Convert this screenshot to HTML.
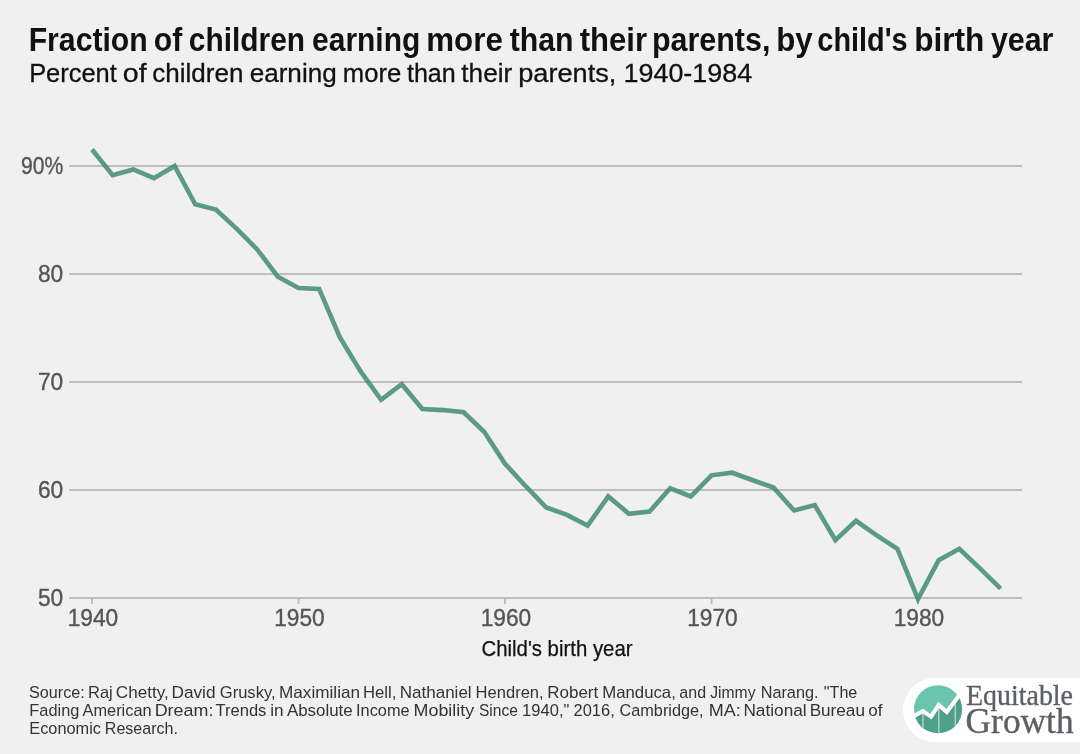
<!DOCTYPE html>
<html><head><meta charset="utf-8"><title>Fraction of children earning more than their parents</title>
<style>
html,body{margin:0;padding:0;background:#f0f0f0;}
body{width:1080px;height:754px;overflow:hidden;font-family:"Liberation Sans",sans-serif;}
svg{display:block;will-change:transform;}
text{font-family:"Liberation Sans",sans-serif;}
.ax{font-size:23px;fill:#555;stroke:#555;stroke-width:0.35px;}
.src{font-size:16.9px;fill:#333;}
.logo{font-family:"Liberation Serif",serif;fill:#5c6064;stroke:#5c6064;stroke-width:0.35px;}
</style></head>
<body>
<svg width="1080" height="754" viewBox="0 0 1080 754">
<rect width="1080" height="754" fill="#f0f0f0"/>
<text transform="translate(28.64 51.00) scale(0.9210 1)" font-size="32.8" font-weight="bold" fill="#111">Fraction</text>
<text transform="translate(153.79 51.00) scale(0.9197 1)" font-size="32.8" font-weight="bold" fill="#111">of</text>
<text transform="translate(188.80 51.00) scale(0.9114 1)" font-size="32.8" font-weight="bold" fill="#111">children</text>
<text transform="translate(312.10 51.00) scale(0.9133 1)" font-size="32.8" font-weight="bold" fill="#111">earning</text>
<text transform="translate(426.27 51.00) scale(0.9543 1)" font-size="32.8" font-weight="bold" fill="#111">more</text>
<text transform="translate(509.70 51.00) scale(0.9221 1)" font-size="32.8" font-weight="bold" fill="#111">than</text>
<text transform="translate(579.69 51.00) scale(0.9480 1)" font-size="32.8" font-weight="bold" fill="#111">their</text>
<text transform="translate(652.02 51.00) scale(0.9280 1)" font-size="32.8" font-weight="bold" fill="#111">parents,</text>
<text transform="translate(776.27 51.00) scale(0.9522 1)" font-size="32.8" font-weight="bold" fill="#111">by</text>
<text transform="translate(817.35 51.00) scale(0.8801 1)" font-size="32.8" font-weight="bold" fill="#111">child's</text>
<text transform="translate(914.14 51.00) scale(0.9648 1)" font-size="32.8" font-weight="bold" fill="#111">birth</text>
<text transform="translate(990.90 51.00) scale(0.9259 1)" font-size="32.8" font-weight="bold" fill="#111">year</text>
<text transform="translate(29.16 81.80) scale(0.9566 1)" font-size="26.6" fill="#111" stroke="#111" stroke-width="0.3">Percent</text>
<text transform="translate(122.86 81.80) scale(1.0734 1)" font-size="26.6" fill="#111" stroke="#111" stroke-width="0.3">of</text>
<text transform="translate(152.26 81.80) scale(0.9789 1)" font-size="26.6" fill="#111" stroke="#111" stroke-width="0.3">children</text>
<text transform="translate(249.66 81.80) scale(0.9812 1)" font-size="26.6" fill="#111" stroke="#111" stroke-width="0.3">earning</text>
<text transform="translate(342.83 81.80) scale(0.9637 1)" font-size="26.6" fill="#111" stroke="#111" stroke-width="0.3">more</text>
<text transform="translate(406.92 81.80) scale(0.9414 1)" font-size="26.6" fill="#111" stroke="#111" stroke-width="0.3">than</text>
<text transform="translate(461.31 81.80) scale(0.9841 1)" font-size="26.6" fill="#111" stroke="#111" stroke-width="0.3">their</text>
<text transform="translate(518.23 81.80) scale(1.0213 1)" font-size="26.6" fill="#111" stroke="#111" stroke-width="0.3">parents,</text>
<text transform="translate(623.48 81.80) scale(1.0124 1)" font-size="26.6" fill="#111" stroke="#111" stroke-width="0.3">1940-1984</text>
<text transform="translate(29.07 698.20) scale(0.9564 1)" font-size="16.9" fill="#333">Source:</text>
<text transform="translate(88.08 698.20) scale(0.9738 1)" font-size="16.9" fill="#333">Raj</text>
<text transform="translate(115.85 698.20) scale(1.0112 1)" font-size="16.9" fill="#333">Chetty,</text>
<text transform="translate(171.42 698.20) scale(1.0214 1)" font-size="16.9" fill="#333">David</text>
<text transform="translate(219.77 698.20) scale(0.9804 1)" font-size="16.9" fill="#333">Grusky,</text>
<text transform="translate(279.03 698.20) scale(1.0153 1)" font-size="16.9" fill="#333">Maximilian</text>
<text transform="translate(363.07 698.20) scale(0.9867 1)" font-size="16.9" fill="#333">Hell,</text>
<text transform="translate(399.74 698.20) scale(1.0079 1)" font-size="16.9" fill="#333">Nathaniel</text>
<text transform="translate(475.58 698.20) scale(0.9794 1)" font-size="16.9" fill="#333">Hendren,</text>
<text transform="translate(547.24 698.20) scale(1.0048 1)" font-size="16.9" fill="#333">Robert</text>
<text transform="translate(602.26 698.20) scale(0.9916 1)" font-size="16.9" fill="#333">Manduca,</text>
<text transform="translate(679.36 698.20) scale(0.9483 1)" font-size="16.9" fill="#333">and</text>
<text transform="translate(710.16 698.20) scale(0.9303 1)" font-size="16.9" fill="#333">Jimmy</text>
<text transform="translate(760.70 698.20) scale(0.9614 1)" font-size="16.9" fill="#333">Narang.</text>
<text transform="translate(823.86 698.20) scale(0.9515 1)" font-size="16.9" fill="#333">&quot;The</text>
<text transform="translate(29.29 715.70) scale(0.9699 1)" font-size="16.9" fill="#333">Fading</text>
<text transform="translate(82.50 715.70) scale(0.9687 1)" font-size="16.9" fill="#333">American</text>
<text transform="translate(154.67 715.70) scale(1.0596 1)" font-size="16.9" fill="#333">Dream:</text>
<text transform="translate(215.47 715.70) scale(0.9797 1)" font-size="16.9" fill="#333">Trends</text>
<text transform="translate(270.28 715.70) scale(1.0183 1)" font-size="16.9" fill="#333">in</text>
<text transform="translate(286.90 715.70) scale(1.0003 1)" font-size="16.9" fill="#333">Absolute</text>
<text transform="translate(356.03 715.70) scale(0.9671 1)" font-size="16.9" fill="#333">Income</text>
<text transform="translate(413.57 715.70) scale(1.0583 1)" font-size="16.9" fill="#333">Mobility</text>
<text transform="translate(479.00 715.70) scale(0.9207 1)" font-size="16.9" fill="#333">Since</text>
<text transform="translate(522.06 715.70) scale(0.9808 1)" font-size="16.9" fill="#333">1940,&quot;</text>
<text transform="translate(573.58 715.70) scale(0.9733 1)" font-size="16.9" fill="#333">2016,</text>
<text transform="translate(619.49 715.70) scale(0.9635 1)" font-size="16.9" fill="#333">Cambridge,</text>
<text transform="translate(708.66 715.70) scale(1.0655 1)" font-size="16.9" fill="#333">MA:</text>
<text transform="translate(743.42 715.70) scale(1.0204 1)" font-size="16.9" fill="#333">National</text>
<text transform="translate(809.63 715.70) scale(1.0163 1)" font-size="16.9" fill="#333">Bureau</text>
<text transform="translate(868.22 715.70) scale(1.0048 1)" font-size="16.9" fill="#333">of</text>
<text transform="translate(29.29 733.50) scale(0.9666 1)" font-size="16.9" fill="#333">Economic</text>
<text transform="translate(104.82 733.50) scale(0.9486 1)" font-size="16.9" fill="#333">Research.</text>
<rect x="69" y="165" width="953" height="2" fill="#bdbdbd"/>
<rect x="69" y="273" width="953" height="2" fill="#bdbdbd"/>
<rect x="69" y="381" width="953" height="2" fill="#bdbdbd"/>
<rect x="69" y="489" width="953" height="2" fill="#bdbdbd"/>
<rect x="69" y="597" width="953" height="2" fill="#bdbdbd"/>
<rect x="91.0" y="598" width="2" height="6" fill="#bdbdbd"/>
<rect x="297.5" y="598" width="2" height="6" fill="#bdbdbd"/>
<rect x="504.0" y="598" width="2" height="6" fill="#bdbdbd"/>
<rect x="710.5" y="598" width="2" height="6" fill="#bdbdbd"/>
<rect x="917.0" y="598" width="2" height="6" fill="#bdbdbd"/>
<text x="63.2" y="174.4" text-anchor="end" class="ax" textLength="42.3" lengthAdjust="spacingAndGlyphs">90%</text>
<text x="63.2" y="282.4" text-anchor="end" class="ax" textLength="25.3" lengthAdjust="spacingAndGlyphs">80</text>
<text x="63.2" y="390.4" text-anchor="end" class="ax" textLength="25.3" lengthAdjust="spacingAndGlyphs">70</text>
<text x="63.2" y="498.4" text-anchor="end" class="ax" textLength="25.3" lengthAdjust="spacingAndGlyphs">60</text>
<text x="63.2" y="606.4" text-anchor="end" class="ax" textLength="25.3" lengthAdjust="spacingAndGlyphs">50</text>
<text x="92.9" y="625.7" text-anchor="middle" class="ax" textLength="50.5" lengthAdjust="spacingAndGlyphs">1940</text>
<text x="299.4" y="625.7" text-anchor="middle" class="ax" textLength="50.5" lengthAdjust="spacingAndGlyphs">1950</text>
<text x="505.9" y="625.7" text-anchor="middle" class="ax" textLength="50.5" lengthAdjust="spacingAndGlyphs">1960</text>
<text x="712.4" y="625.7" text-anchor="middle" class="ax" textLength="50.5" lengthAdjust="spacingAndGlyphs">1970</text>
<text x="918.9" y="625.7" text-anchor="middle" class="ax" textLength="50.5" lengthAdjust="spacingAndGlyphs">1980</text>

<polyline points="92.00,149.48 112.65,175.18 133.30,169.46 153.95,178.20 174.60,166.00 195.25,204.34 215.90,209.52 236.55,228.64 257.20,249.48 277.85,276.70 298.50,288.04 319.15,288.90 339.80,337.18 360.45,371.20 381.10,399.82 401.75,384.16 422.40,409.00 443.05,410.08 463.70,412.24 484.35,432.00 505.00,463.76 525.65,486.22 546.30,507.50 566.95,514.84 587.60,525.64 608.25,496.48 628.90,513.76 649.55,511.60 670.20,488.27 690.85,496.48 711.50,475.31 732.15,472.72 752.80,480.28 773.45,487.52 794.10,510.52 814.75,505.12 835.40,540.22 856.05,520.78 876.70,535.36 897.35,548.75 918.00,599.08 938.65,560.20 959.30,548.75 979.95,568.30 1000.60,588.71" fill="none" stroke="#468e74" stroke-opacity="0.88" stroke-width="4.6" stroke-linejoin="miter" stroke-linecap="butt"/>
<text x="557" y="655.8" text-anchor="middle" font-size="21.6" fill="#111" stroke="#111" stroke-width="0.25" textLength="151" lengthAdjust="spacingAndGlyphs">Child's birth year</text>
<!-- logo -->
<path d="M1080 678 H935 A32 32 0 0 0 935 742 H1080 Z" fill="#fff"/>
<defs><clipPath id="cc"><circle cx="938" cy="709.2" r="24"/></clipPath></defs>
<g clip-path="url(#cc)">
<rect x="910" y="680" width="60" height="60" fill="#6bc4ae"/>
<path d="M912 717 L922.9 711.2 L931 716.8 L938.7 704.9 L946.8 712 L962 691 V740 H912 Z" fill="#4f9f89"/>
<rect x="922.4" y="711" width="1.1" height="30" fill="#cfe6de"/>
<rect x="938.3" y="705" width="1.1" height="30" fill="#cfe6de"/>
<rect x="954.6" y="702" width="1.1" height="30" fill="#cfe6de"/>
</g>
<path d="M913 716.4 L922.9 711.2 L931 716.8 L938.7 704.9 L946.8 712 L958.6 696" fill="none" stroke="#fff" stroke-width="4" stroke-linejoin="miter"/>
<text x="966" y="705.1" class="logo" font-size="28.6" textLength="107" lengthAdjust="spacingAndGlyphs">Equitable</text>
<text x="965.6" y="732.8" class="logo" font-size="35.3" textLength="108" lengthAdjust="spacingAndGlyphs">Growth</text>
</svg>
</body></html>
